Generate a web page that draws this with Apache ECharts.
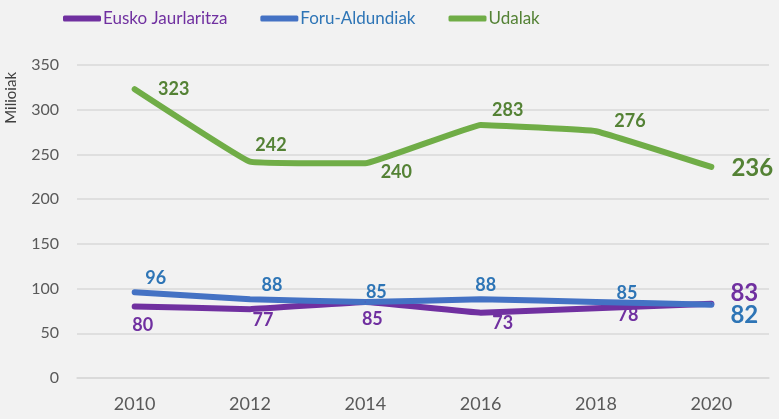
<!DOCTYPE html>
<html>
<head>
<meta charset="utf-8">
<script src="https://cdn.jsdelivr.net/npm/echarts@6/dist/echarts.min.js"></script>
<style>
  html, body { margin: 0; padding: 0; background: #f2f2f2; }
  #chart { width: 779px; height: 419px; }
</style>
</head>
<body>
<div id="chart"></div>
<script>
// data
const years = ['2010', '2012', '2014', '2016', '2018', '2020'];
const euskoJaurlaritza = [80, 77, 85, 73, 78, 83];
const foruAldundiak = [96, 88, 85, 88, 85, 82];
const udalak = [323, 242, 240, 283, 276, 236];
const seriesNames = ['Eusko Jaurlaritza', 'Foru-Aldundiak', 'Udalak'];

// label placement (px offsets from each point)
const purpleOffsets = [[8, 19], [13, 11], [7, 17], [22, 10], [32, 7], [33, -11]];
const blueOffsets = [[21, -14], [22, -14], [11, -10], [5, -14], [31, -9], [33, 11]];
const greenOffsets = [[39, 0], [21, -16], [31, 9], [27, -15], [34, -10], [41, 1]];

const lineColors = ['#7030a0', '#4472c4', '#70ad47'];
const textColors = ['#7030a0', '#2e75b6', '#548235'];
const font = 'Lato';

const chart = echarts.init(document.getElementById('chart'));

function buildData(values, offsets) {
  return values.map((v, i) => ({
    value: v,
    label: {
      offset: offsets[i],
      fontSize: i === values.length - 1 ? 24 : 18,
    },
  }));
}

function buildSeries(idx, values, offsets) {
  return {
    name: seriesNames[idx],
    type: 'line',
    smooth: 0.06,
    symbol: 'circle',
    symbolSize: 1,
    itemStyle: { color: lineColors[idx] },
    lineStyle: { color: lineColors[idx], width: 6, cap: 'round', join: 'round' },
    label: {
      show: true,
      position: 'inside',
      color: textColors[idx],
      fontFamily: font,
      fontWeight: 'bold',
    },
    data: buildData(values, offsets),
  };
}

const option = {
  backgroundColor: '#f2f2f2',
  animation: false,
  legend: {
    left: 58,
    top: 5,
    icon: 'roundRect',
    itemWidth: 38,
    itemHeight: 6,
    itemGap: 33,
    data: seriesNames.map((n, i) => ({
      name: n,
      textStyle: { color: textColors[i] },
    })),
    textStyle: { fontFamily: font, fontSize: 17, padding: [0, 0, 0, -3] },
  },
  grid: { left: 77, right: 10, top: 65, bottom: 41 },
  xAxis: {
    type: 'category',
    data: years,
    boundaryGap: true,
    axisLine: { lineStyle: { color: '#d9d9d9', width: 1.5 } },
    axisTick: { show: false },
    axisLabel: { color: '#595959', fontFamily: font, fontSize: 18, margin: 17 },
  },
  yAxis: {
    type: 'value',
    min: 0,
    max: 350,
    interval: 50,
    axisLine: { show: false },
    axisTick: { show: false },
    splitLine: { lineStyle: { color: '#d9d9d9', width: 1.5 } },
    axisLabel: { color: '#595959', fontFamily: font, fontSize: 16, margin: 18 },
  },
  graphic: [{
    type: 'text',
    left: 4,
    top: 72,
    rotation: Math.PI / 2,
    style: { text: 'Milioiak', fill: '#404040', font: '15px Lato' },
  }],
  series: [
    buildSeries(0, euskoJaurlaritza, purpleOffsets),
    buildSeries(1, foruAldundiak, blueOffsets),
    buildSeries(2, udalak, greenOffsets),
  ],
};

chart.setOption(option);
</script>
</body>
</html>
